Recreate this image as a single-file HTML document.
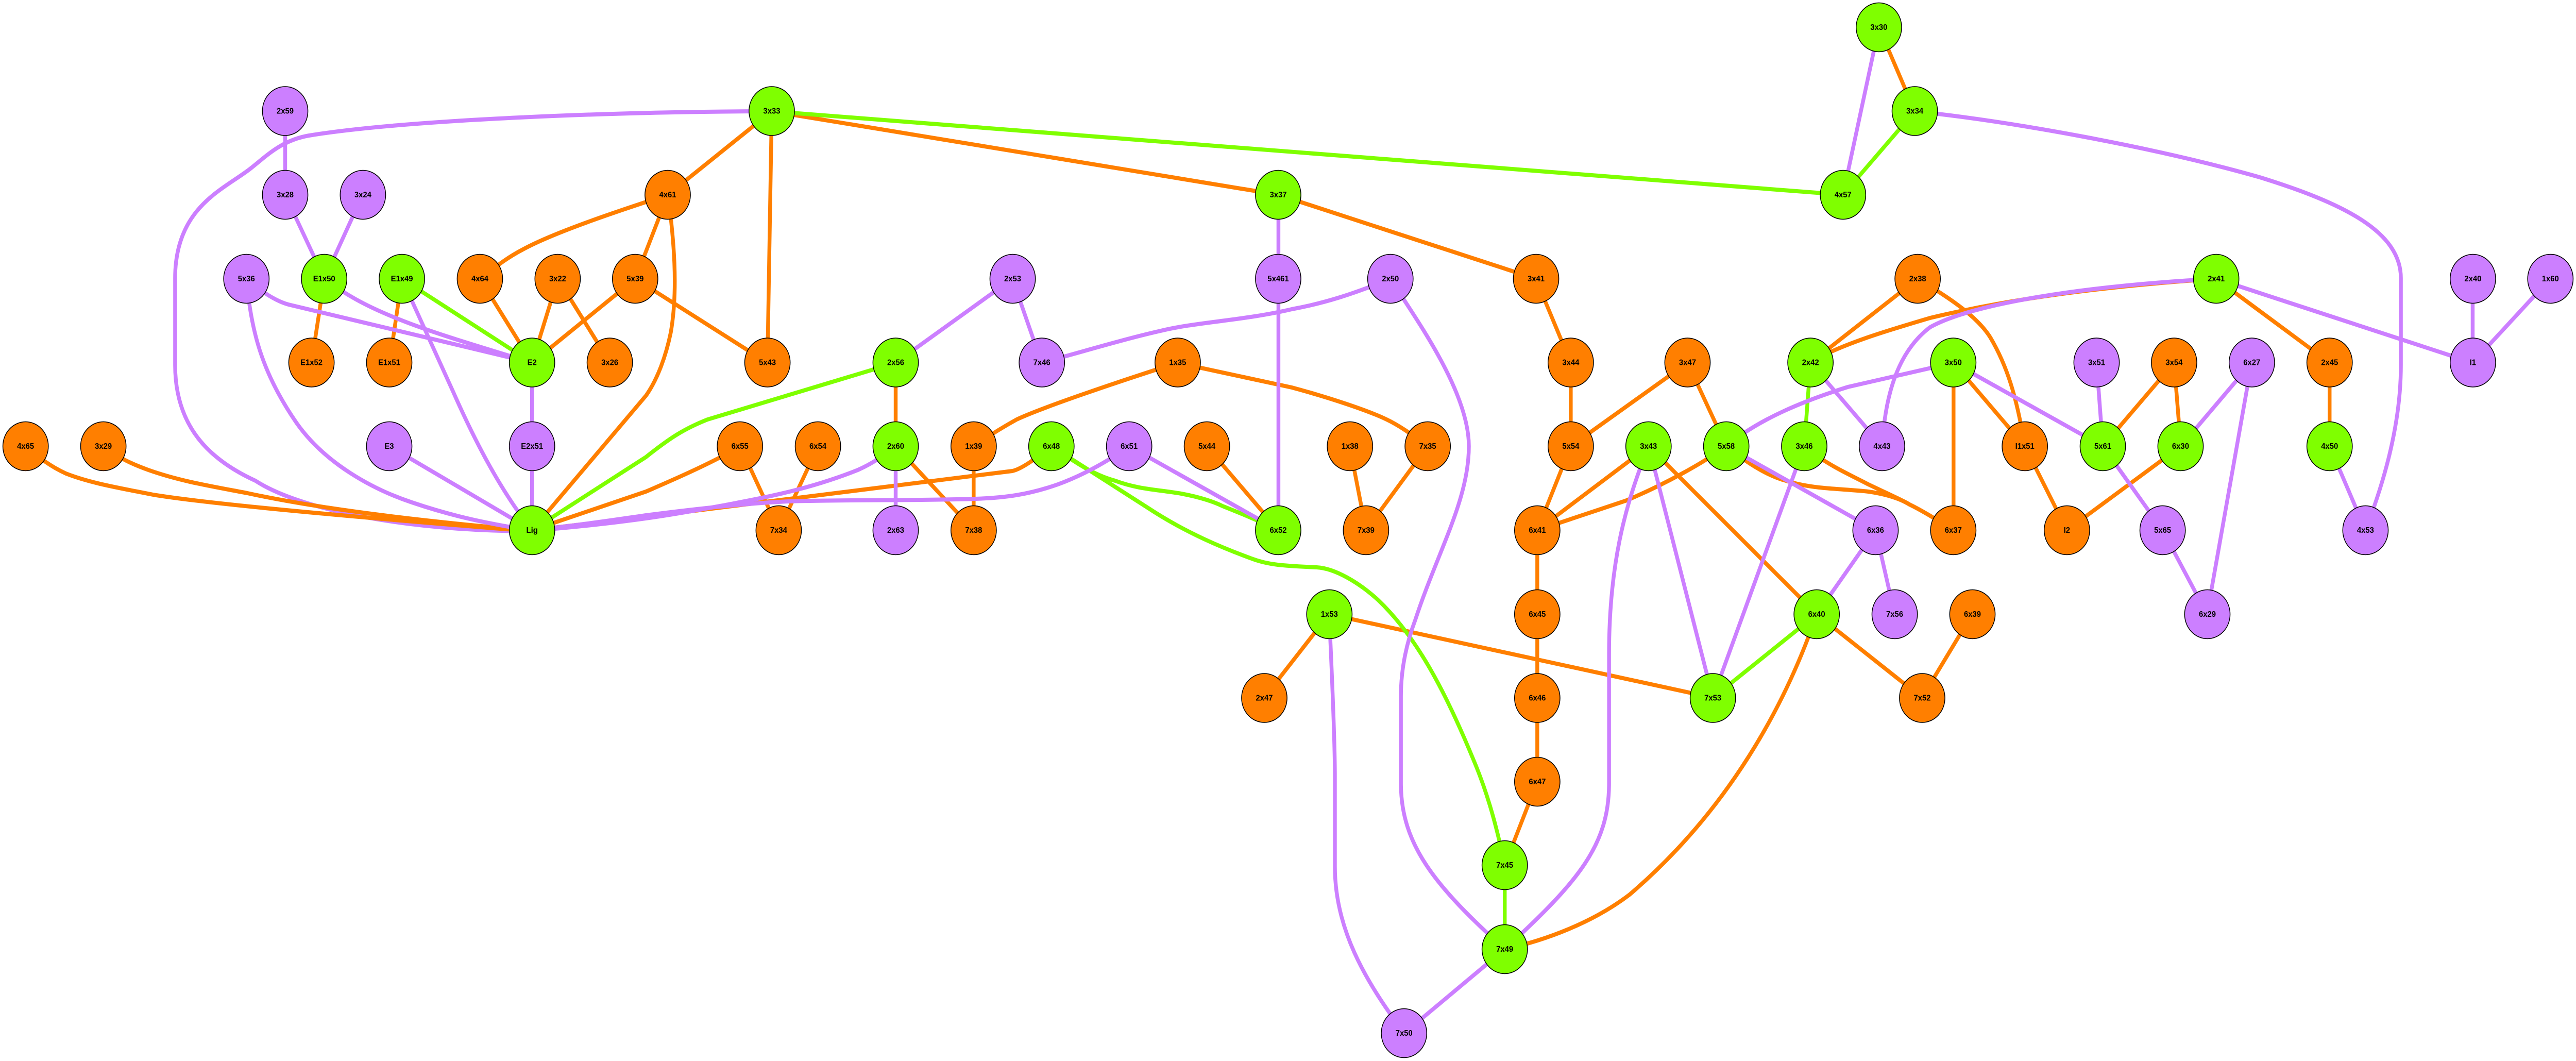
<!DOCTYPE html>
<html><head><meta charset="utf-8"><title>Interaction network</title>
<style>
html,body{margin:0;padding:0;background:#fff;width:100%;height:100%;overflow:hidden}
svg{display:block;position:fixed;left:0;top:0;width:100vw;height:100vh}
.e path{fill:none;stroke-width:8}
.o path{stroke:#ff7f00}.p path{stroke:#cc7fff}.g path{stroke:#7fff00}
circle{stroke:#000;stroke-width:1.6}
.O{fill:#ff7f00}.P{fill:#cc7fff}.G{fill:#7fff00}
text{font:bold 16px "Liberation Sans",Arial,sans-serif;text-anchor:middle;fill:#000}
</style></head><body>
<svg xmlns="http://www.w3.org/2000/svg" viewBox="0 0 5384 2059" preserveAspectRatio="none">
<rect width="5384" height="2059" fill="#fff"/>
<g class="e p">
<path d="M1613 216C1300 216 850 232 646 263C590 272 560 300 525 326C470 367 366 400 366 540L366 708C366 830 440 893 534 933C620 985 830 1030 1112 1031"/>
</g>
<g class="e o">
<path d="M53 866C85 890 105 905 138 919C190 938 250 947 320 960C450 980 800 1008 1112 1031"/>
<path d="M216 866C250 890 280 902 310 912C380 935 450 945 517 957C680 990 900 1013 1112 1030"/>
<path d="M2198 866C2160 893 2135 910 2116 914L1350 1003L1112 1029"/>
<path d="M1547 866C1500 892 1440 918 1350 954L1112 1029"/>
<path d="M1396 378C1408 460 1418 560 1402 645C1392 690 1375 735 1350 768L1112 1029"/>
<path d="M1613 216L1396 378"/><path d="M1613 216L1604 704"/><path d="M1613 216L2672 378"/>
<path d="M2672 378L3210 541"/><path d="M1396 378L1328 541"/>
<path d="M1396 378C1300 407 1160 450 1093 484C1060 500 1040 515 1003 541"/>
<path d="M1328 541L1112 704"/><path d="M1328 541L1604 704"/><path d="M1003 541L1112 704"/><path d="M1166 541L1112 704"/><path d="M1166 541L1275 704"/>
<path d="M678 541L651 704"/><path d="M840 541L814 704"/>
<path d="M2461 704C2340 740 2180 790 2125 814C2090 832 2060 850 2035 866"/>
<path d="M2461 704C2540 720 2640 740 2700 752C2780 772 2860 797 2898 814C2930 828 2960 850 2984 866"/>
<path d="M1872 704L1872 866"/><path d="M1872 866L2035 1029"/><path d="M2035 866L2035 1029"/>
<path d="M1547 866L1628 1029"/><path d="M1710 866L1628 1029"/><path d="M2522 866L2672 1029"/>
<path d="M2821 866L2855 1029"/><path d="M2984 866L2855 1029"/>
<path d="M3210 541L3283 704"/><path d="M3283 704L3283 866"/><path d="M3527 704L3283 866"/><path d="M3527 704L3608 866"/>
<path d="M3283 866L3213 1029"/><path d="M3446 866L3213 1029"/>
<path d="M3608 866C3560 898 3480 940 3397 972L3213 1029"/>
<path d="M3213 1029L3213 1517"/><path d="M3213 1517L3145 1679"/>
<path d="M3446 866L3797 1192"/>
<path d="M3608 866C3660 905 3700 925 3733 933C3790 950 3850 948 3905 954C3950 960 3975 970 3991 979C4020 992 4050 1010 4083 1029"/>
<path d="M3771 866C3820 903 3860 918 3905 940C3950 960 3975 970 3991 979C4020 992 4050 1010 4083 1029"/>
<path d="M4008 541L3784 704"/>
<path d="M3784 704C3840 670 3950 640 4034 617C4200 580 4400 555 4632 541"/>
<path d="M4008 541C4060 570 4130 610 4160 655C4195 710 4215 770 4232 866"/>
<path d="M4083 704L4083 1029"/><path d="M4083 704L4232 866"/><path d="M4232 866L4320 1029"/>
<path d="M4544 704L4395 866"/><path d="M4544 704L4558 866"/><path d="M4558 866L4320 1029"/>
<path d="M4632 541L4869 704"/><path d="M4869 704L4869 866"/>
<path d="M3927 53L4002 216"/>
<path d="M2778 1192L3580 1354"/><path d="M2778 1192L2642 1354"/>
<path d="M3797 1192L4017 1354"/><path d="M4122 1192L4017 1354"/>
<path d="M3797 1192C3720 1400 3590 1590 3406 1736C3330 1790 3230 1825 3145 1842"/>
</g>
<g class="e g">
<path d="M1872 704L1479 814C1430 832 1400 850 1350 887L1112 1029"/>
<path d="M840 541L1112 704"/>
<path d="M1613 216L3852 378"/>
<path d="M4002 216L3852 378"/>
<path d="M2198 866C2240 892 2280 920 2331 933C2380 950 2420 950 2469 958C2510 965 2540 975 2555 982C2590 995 2630 1010 2672 1029"/>
<path d="M2198 866L2400 986C2480 1035 2560 1065 2616 1084C2650 1096 2680 1098 2752 1101C2790 1103 2840 1130 2881 1165C2960 1235 3020 1340 3079 1473C3105 1530 3125 1590 3145 1679"/>
<path d="M3145 1679L3145 1842"/>
<path d="M3784 704L3771 866"/>
<path d="M3797 1192L3580 1354"/>
</g>
<g class="e p">
<path d="M515 541C545 565 575 584 603 591L1112 704"/>
<path d="M678 541C720 570 760 592 827 617C900 645 1000 672 1112 704"/>
<path d="M515 541C525 640 545 720 620 821C680 900 780 950 861 975C950 1003 1020 1016 1112 1030"/>
<path d="M840 541L947 760C985 840 1040 945 1112 1029"/>
<path d="M596 216L596 378"/><path d="M596 378L678 541"/><path d="M758 378L678 541"/>
<path d="M1112 704L1112 1029"/><path d="M814 866L1112 1029"/>
<path d="M1872 866C1840 890 1815 903 1793 912C1690 950 1600 965 1522 979C1440 993 1350 1010 1160 1026L1112 1029"/>
<path d="M2360 866C2320 892 2270 920 2211 940C2150 960 2100 966 2039 968C1960 971 1800 970 1694 972C1600 972 1450 988 1350 1000C1290 1008 1220 1018 1112 1029"/>
<path d="M2116 541L1872 704"/><path d="M2116 541L2177 704"/>
<path d="M2906 541C2830 570 2770 588 2700 600C2600 622 2500 625 2426 642C2350 658 2280 678 2177 704"/>
<path d="M2672 378L2672 1029"/>
<path d="M1872 866L1872 1029"/><path d="M2360 866L2672 1029"/>
<path d="M2906 541C2960 620 3070 760 3070 866C3070 970 3005 1070 2958 1203C2935 1260 2928 1310 2928 1351L2928 1520C2928 1640 3000 1720 3145 1842"/>
<path d="M3446 866C3395 980 3363 1100 3363 1270L3363 1520C3363 1640 3300 1710 3145 1842"/>
<path d="M3446 866L3580 1354"/><path d="M3771 866L3580 1354"/><path d="M3608 866L3920 1029"/>
<path d="M3920 1029L3797 1192"/><path d="M3920 1029L3960 1192"/>
<path d="M3145 1842L2935 2005"/>
<path d="M2778 1192C2785 1330 2790 1450 2790 1507L2790 1682C2790 1800 2850 1900 2935 2005"/>
<path d="M3608 866C3680 810 3780 775 3862 751L4083 704"/>
<path d="M3784 704L3934 866"/>
<path d="M3934 866C3940 760 3970 680 4034 635C4120 590 4350 555 4632 541"/>
<path d="M4083 704L4395 866"/><path d="M4382 704L4395 866"/><path d="M4706 704L4558 866"/>
<path d="M4706 704L4613 1192"/><path d="M4395 866L4520 1029"/><path d="M4520 1029L4613 1192"/>
<path d="M4632 541L5168 704"/><path d="M5168 541L5168 704"/><path d="M5330 541L5168 704"/>
<path d="M4869 866L4944 1029"/>
<path d="M4002 216C4200 235 4500 285 4723 344C4900 395 5018 450 5018 540L5018 708C5018 820 4985 930 4944 1029"/>
<path d="M3927 53L3852 378"/>
</g>
<g>
<circle class="G" cx="3927" cy="53" r="47.5"/><text x="3927" y="58">3x30</text>
<circle class="P" cx="596" cy="215.5" r="47.5"/><text x="596" y="220.5">2x59</text>
<circle class="G" cx="1613" cy="215.5" r="47.5"/><text x="1613" y="220.5">3x33</text>
<circle class="G" cx="4002" cy="215.5" r="47.5"/><text x="4002" y="220.5">3x34</text>
<circle class="P" cx="596" cy="378" r="47.5"/><text x="596" y="383">3x28</text>
<circle class="P" cx="758.5" cy="378" r="47.5"/><text x="758.5" y="383">3x24</text>
<circle class="O" cx="1395.5" cy="378" r="47.5"/><text x="1395.5" y="383">4x61</text>
<circle class="G" cx="2671.5" cy="378" r="47.5"/><text x="2671.5" y="383">3x37</text>
<circle class="G" cx="3852" cy="378" r="47.5"/><text x="3852" y="383">4x57</text>
<circle class="P" cx="515" cy="541" r="47.5"/><text x="515" y="546">5x36</text>
<circle class="G" cx="677.5" cy="541" r="47.5"/><text x="677.5" y="546">E1x50</text>
<circle class="G" cx="840" cy="541" r="47.5"/><text x="840" y="546">E1x49</text>
<circle class="O" cx="1003" cy="541" r="47.5"/><text x="1003" y="546">4x64</text>
<circle class="O" cx="1165.5" cy="541" r="47.5"/><text x="1165.5" y="546">3x22</text>
<circle class="O" cx="1327.5" cy="541" r="47.5"/><text x="1327.5" y="546">5x39</text>
<circle class="P" cx="2116.5" cy="541" r="47.5"/><text x="2116.5" y="546">2x53</text>
<circle class="P" cx="2671.5" cy="541" r="47.5"/><text x="2671.5" y="546">5x461</text>
<circle class="P" cx="2906" cy="541" r="47.5"/><text x="2906" y="546">2x50</text>
<circle class="O" cx="3210.5" cy="541" r="47.5"/><text x="3210.5" y="546">3x41</text>
<circle class="O" cx="4008" cy="541" r="47.5"/><text x="4008" y="546">2x38</text>
<circle class="G" cx="4632" cy="541" r="47.5"/><text x="4632" y="546">2x41</text>
<circle class="P" cx="5168.5" cy="541" r="47.5"/><text x="5168.5" y="546">2x40</text>
<circle class="P" cx="5330.5" cy="541" r="47.5"/><text x="5330.5" y="546">1x60</text>
<circle class="O" cx="651" cy="703.5" r="47.5"/><text x="651" y="708.5">E1x52</text>
<circle class="O" cx="813.5" cy="703.5" r="47.5"/><text x="813.5" y="708.5">E1x51</text>
<circle class="G" cx="1112" cy="703.5" r="47.5"/><text x="1112" y="708.5">E2</text>
<circle class="O" cx="1274.5" cy="703.5" r="47.5"/><text x="1274.5" y="708.5">3x26</text>
<circle class="O" cx="1604" cy="703.5" r="47.5"/><text x="1604" y="708.5">5x43</text>
<circle class="G" cx="1872" cy="703.5" r="47.5"/><text x="1872" y="708.5">2x56</text>
<circle class="P" cx="2177.5" cy="703.5" r="47.5"/><text x="2177.5" y="708.5">7x46</text>
<circle class="O" cx="2461.5" cy="703.5" r="47.5"/><text x="2461.5" y="708.5">1x35</text>
<circle class="O" cx="3283" cy="703.5" r="47.5"/><text x="3283" y="708.5">3x44</text>
<circle class="O" cx="3527" cy="703.5" r="47.5"/><text x="3527" y="708.5">3x47</text>
<circle class="G" cx="3784" cy="703.5" r="47.5"/><text x="3784" y="708.5">2x42</text>
<circle class="G" cx="4082.5" cy="703.5" r="47.5"/><text x="4082.5" y="708.5">3x50</text>
<circle class="P" cx="4382" cy="703.5" r="47.5"/><text x="4382" y="708.5">3x51</text>
<circle class="O" cx="4544" cy="703.5" r="47.5"/><text x="4544" y="708.5">3x54</text>
<circle class="P" cx="4706.5" cy="703.5" r="47.5"/><text x="4706.5" y="708.5">6x27</text>
<circle class="O" cx="4869" cy="703.5" r="47.5"/><text x="4869" y="708.5">2x45</text>
<circle class="P" cx="5168.5" cy="703.5" r="47.5"/><text x="5168.5" y="708.5">I1</text>
<circle class="O" cx="53.5" cy="866" r="47.5"/><text x="53.5" y="871">4x65</text>
<circle class="O" cx="216" cy="866" r="47.5"/><text x="216" y="871">3x29</text>
<circle class="P" cx="813.5" cy="866" r="47.5"/><text x="813.5" y="871">E3</text>
<circle class="P" cx="1112" cy="866" r="47.5"/><text x="1112" y="871">E2x51</text>
<circle class="O" cx="1546.5" cy="866" r="47.5"/><text x="1546.5" y="871">6x55</text>
<circle class="O" cx="1709.5" cy="866" r="47.5"/><text x="1709.5" y="871">6x54</text>
<circle class="G" cx="1872" cy="866" r="47.5"/><text x="1872" y="871">2x60</text>
<circle class="O" cx="2035" cy="866" r="47.5"/><text x="2035" y="871">1x39</text>
<circle class="G" cx="2197.5" cy="866" r="47.5"/><text x="2197.5" y="871">6x48</text>
<circle class="P" cx="2360" cy="866" r="47.5"/><text x="2360" y="871">6x51</text>
<circle class="O" cx="2522.5" cy="866" r="47.5"/><text x="2522.5" y="871">5x44</text>
<circle class="O" cx="2821.5" cy="866" r="47.5"/><text x="2821.5" y="871">1x38</text>
<circle class="O" cx="2984" cy="866" r="47.5"/><text x="2984" y="871">7x35</text>
<circle class="O" cx="3283" cy="866" r="47.5"/><text x="3283" y="871">5x54</text>
<circle class="G" cx="3445.5" cy="866" r="47.5"/><text x="3445.5" y="871">3x43</text>
<circle class="G" cx="3608" cy="866" r="47.5"/><text x="3608" y="871">5x58</text>
<circle class="G" cx="3771" cy="866" r="47.5"/><text x="3771" y="871">3x46</text>
<circle class="P" cx="3933.5" cy="866" r="47.5"/><text x="3933.5" y="871">4x43</text>
<circle class="O" cx="4232" cy="866" r="47.5"/><text x="4232" y="871">I1x51</text>
<circle class="G" cx="4395" cy="866" r="47.5"/><text x="4395" y="871">5x61</text>
<circle class="G" cx="4557.5" cy="866" r="47.5"/><text x="4557.5" y="871">6x30</text>
<circle class="G" cx="4869" cy="866" r="47.5"/><text x="4869" y="871">4x50</text>
<circle class="G" cx="1112" cy="1029" r="47.5"/><text x="1112" y="1034">Lig</text>
<circle class="O" cx="1627.5" cy="1029" r="47.5"/><text x="1627.5" y="1034">7x34</text>
<circle class="P" cx="1872" cy="1029" r="47.5"/><text x="1872" y="1034">2x63</text>
<circle class="O" cx="2035" cy="1029" r="47.5"/><text x="2035" y="1034">7x38</text>
<circle class="G" cx="2671.5" cy="1029" r="47.5"/><text x="2671.5" y="1034">6x52</text>
<circle class="O" cx="2855" cy="1029" r="47.5"/><text x="2855" y="1034">7x39</text>
<circle class="O" cx="3213" cy="1029" r="47.5"/><text x="3213" y="1034">6x41</text>
<circle class="P" cx="3920" cy="1029" r="47.5"/><text x="3920" y="1034">6x36</text>
<circle class="O" cx="4082.5" cy="1029" r="47.5"/><text x="4082.5" y="1034">6x37</text>
<circle class="O" cx="4320" cy="1029" r="47.5"/><text x="4320" y="1034">I2</text>
<circle class="P" cx="4520" cy="1029" r="47.5"/><text x="4520" y="1034">5x65</text>
<circle class="P" cx="4944" cy="1029" r="47.5"/><text x="4944" y="1034">4x53</text>
<circle class="G" cx="2778.5" cy="1192" r="47.5"/><text x="2778.5" y="1197">1x53</text>
<circle class="O" cx="3213" cy="1192" r="47.5"/><text x="3213" y="1197">6x45</text>
<circle class="G" cx="3797" cy="1192" r="47.5"/><text x="3797" y="1197">6x40</text>
<circle class="P" cx="3960" cy="1192" r="47.5"/><text x="3960" y="1197">7x56</text>
<circle class="O" cx="4122.5" cy="1192" r="47.5"/><text x="4122.5" y="1197">6x39</text>
<circle class="P" cx="4613.5" cy="1192" r="47.5"/><text x="4613.5" y="1197">6x29</text>
<circle class="O" cx="2642.5" cy="1354.5" r="47.5"/><text x="2642.5" y="1359.5">2x47</text>
<circle class="O" cx="3213" cy="1354.5" r="47.5"/><text x="3213" y="1359.5">6x46</text>
<circle class="G" cx="3580" cy="1354.5" r="47.5"/><text x="3580" y="1359.5">7x53</text>
<circle class="O" cx="4017.5" cy="1354.5" r="47.5"/><text x="4017.5" y="1359.5">7x52</text>
<circle class="O" cx="3213" cy="1517" r="47.5"/><text x="3213" y="1522">6x47</text>
<circle class="G" cx="3145" cy="1679" r="47.5"/><text x="3145" y="1684">7x45</text>
<circle class="G" cx="3145" cy="1842" r="47.5"/><text x="3145" y="1847">7x49</text>
<circle class="P" cx="2934.5" cy="2005" r="47.5"/><text x="2934.5" y="2010">7x50</text>
</g>
</svg>
</body></html>
